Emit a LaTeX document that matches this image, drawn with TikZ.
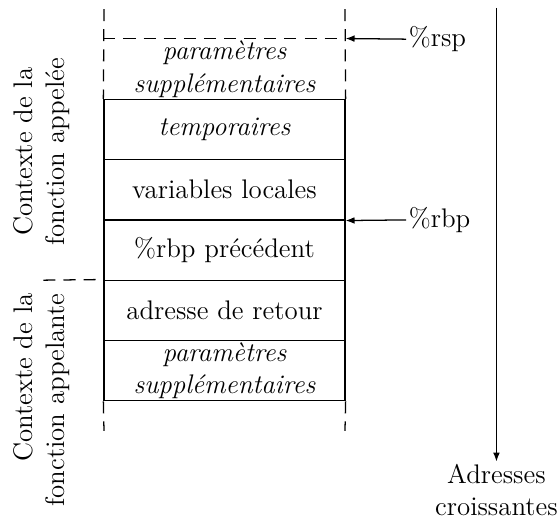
\documentclass[tikz,border=0pt]{standalone}
\usetikzlibrary{arrows.meta}
\begin{document}
\begin{tikzpicture}[
  font=\fontsize{12.7pt}{15.3pt}\selectfont,
  line width=0.6pt,
  cell/.style={draw, minimum width=4cm, minimum height=1cm, inner sep=0pt, align=center},
  freecell/.style={minimum width=4cm, minimum height=1cm, inner sep=0pt, align=center},
  dsh/.style={dash pattern=on 5.7pt off 3.8pt},
  arr/.style={-{Latex[length=4.2pt,width=3.2pt]}},
  side/.style={rotate=90, inner sep=0pt}
]
\useasboundingbox (0,0) rectangle (9.278,-8.581);
% cells
\node[freecell] (par1) at (3.726,-1.15) {\itshape paramètres\\\itshape supplémentaires};
\node[cell] (temp) at (3.726,-2.15) {\itshape temporaires};
\node[cell] (loc) at (3.726,-3.15) {variables locales};
\node[cell] (rbpp) at (3.726,-4.15) {\%rbp précédent};
\node[cell] (ret) at (3.726,-5.15) {adresse de retour};
\node[cell] (par2) at (3.726,-6.15) {\itshape paramètres\\\itshape supplémentaires};
% dashed borders
\coordinate (tl) at (1.726,-0.15);
\coordinate (tr) at (5.726,-0.15);
\coordinate (bl) at (1.726,-7.15);
\coordinate (br) at (5.726,-7.15);
\draw[dsh] (tl) -- (temp.north west);
\draw[dsh] (tr) -- (temp.north east);
\draw[dsh] (par1.north west) -- (par1.north east);
\draw[dsh] (par2.south west) -- (bl);
\draw[dsh] (par2.south east) -- (br);
\coordinate (dl) at (0.72,-4.65);
\draw[dsh] (dl) -- (ret.north west);
% pointers
\node[anchor=west, inner sep=1pt] (rsp) at (6.74,-0.65) {\%rsp};
\node[anchor=west, inner sep=1pt] (rbp) at (6.74,-3.65) {\%rbp};
\draw[arr] (rsp.west) -- (par1.north east);
\draw[arr] (rbp.west) -- (loc.south east);
% addresses arrow
\coordinate (atop) at (8.24,-0.13);
\node[anchor=north, align=center, inner sep=1pt] (addr) at (8.24,-7.66) {Adresses\\croissantes};
\draw[arr] (atop) -- (addr.north);
% side labels
\node[side, align=center] (callee) at (0.69,-2.52) {Contexte de la\\fonction appelée};
\node[side, align=right, anchor=east] (caller) at (0.69,-4.86) {Contexte de la\\fonction appelante};
\end{tikzpicture}
\end{document}
